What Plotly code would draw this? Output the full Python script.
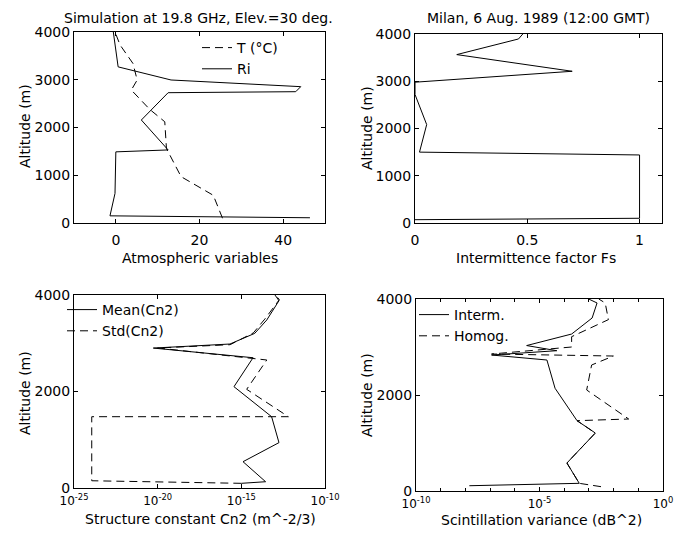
import plotly.graph_objects as go

# ---------------- data ----------------
# Panel 1: atmospheric variables vs altitude
t_alt = [100, 580, 970, 1560, 2120, 2380, 2785, 2995, 3340, 3730, 4000]
t_val = [25.5, 23.3, 15.6, 12.1, 11.7, 8.1, 3.7, 5.1, 4.1, 1.0, -0.2]
ri_alt = [110, 150, 620, 1490, 1530, 2157, 2729, 2750, 2855, 2995, 3270, 4000]
ri_val = [46.4, -1.4, -0.2, 0.0, 12.5, 6.1, 12.5, 43.0, 44.2, 13.2, 0.55, -0.6]

# Panel 2: intermittence factor
fs_alt = [70, 100, 1440, 1500, 2083, 2720, 2980, 3211, 3564, 3895, 4000]
fs_val = [0.0, 1.0, 1.0, 0.02, 0.052, 0.0, 0.0, 0.70, 0.186, 0.461, 0.48]

# Panel 3: structure constant Cn2 (log10 values)
mean_alt = [97, 130, 545, 940, 1478, 2100, 2700, 2900, 2984, 3205, 3482, 3882, 4000]
mean_exp = [-15.0, -13.55, -14.9, -12.75, -13.19, -15.44, -14.3, -20.26, -15.68, -14.2, -13.48, -12.75, -12.99]
std_alt = [97, 150, 1478, 1478, 2045, 2653, 2902, 2970, 3215, 3500, 3903, 4000]
std_exp = [-15.0, -23.94, -23.94, -12.19, -14.68, -13.48, -20.0, -15.67, -14.28, -13.6, -12.73, -12.95]

# Panel 4: scintillation variance (log10 values)
int_alt = [110, 160, 583, 1208, 1465, 2140, 2729, 2833, 2923, 3030, 3270, 3604, 3917, 4000]
int_exp = [-7.84, -3.39, -3.89, -2.74, -3.48, -4.37, -4.7, -6.94, -4.3, -5.52, -3.7, -2.87, -2.67, -3.01]
hom_alt = [90, 160, 583, 1208, 1465, 1500, 2104, 2625, 2812, 2854, 3000, 3215, 3570, 3917, 4000]
hom_exp = [-2.51, -3.39, -3.89, -2.74, -3.48, -1.39, -3.09, -2.89, -2.01, -6.94, -3.7, -3.7, -2.21, -2.34, -2.6]

# tick labels
alt_ticks_top = [0, 1000, 2000, 3000, 4000]
alt_ticks_bot = [0, 2000, 4000]
atm_ticks = [0, 20, 40]
fs_ticks = [0, 0.5, 1]
fs_ticktext = ["0", "0.5", "1"]
cn2_tick_exp = [-25, -20, -15, -10]
var_label_exp = [-10, -5, 0]
var_minor_exp = [-9, -8, -7, -6, -4, -3, -2, -1]

titles = ["Simulation at 19.8 GHz, Elev.=30 deg.", "Milan, 6 Aug. 1989 (12:00 GMT)"]
xlabels = ["Atmospheric variables", "Intermittence factor Fs",
           "Structure constant Cn2 (m^-2/3)", "Scintillation variance (dB^2)"]
ylabel = "Altitude (m)"

# ---------------- figure ----------------
OFF = 8                      # the page body has an 8px margin
W, H = 684 - OFF, 535 - OFF  # figure size so that the page is 684x535
FONT = "DejaVu Sans"
FS = 14


def px_x(a):
    return (a - OFF) / W


def px_y(b):
    return 1 - (b - OFF) / H


def dx(a, b):
    return [px_x(a), px_x(b)]


def dy(top, bottom):
    return [px_y(bottom), px_y(top)]


fig = go.Figure()
solid = dict(color="black", width=1)
dashed = dict(color="black", width=1, dash="8px,5px")

fig.add_trace(go.Scatter(x=t_val, y=t_alt, mode="lines", line=dashed, name="T (°C)",
                         xaxis="x", yaxis="y", legend="legend"))
fig.add_trace(go.Scatter(x=ri_val, y=ri_alt, mode="lines", line=solid, name="Ri",
                         xaxis="x", yaxis="y", legend="legend"))
fig.add_trace(go.Scatter(x=fs_val, y=fs_alt, mode="lines", line=solid, showlegend=False,
                         xaxis="x2", yaxis="y2"))
fig.add_trace(go.Scatter(x=[10 ** e for e in mean_exp], y=mean_alt, mode="lines", line=solid,
                         name="Mean(Cn2)", xaxis="x3", yaxis="y3", legend="legend2"))
fig.add_trace(go.Scatter(x=[10 ** e for e in std_exp], y=std_alt, mode="lines", line=dashed,
                         name="Std(Cn2)", xaxis="x3", yaxis="y3", legend="legend2"))
fig.add_trace(go.Scatter(x=[10 ** e for e in int_exp], y=int_alt, mode="lines", line=solid,
                         name="Interm.", xaxis="x4", yaxis="y4", legend="legend3"))
fig.add_trace(go.Scatter(x=[10 ** e for e in hom_exp], y=hom_alt, mode="lines", line=dashed,
                         name="Homog.", xaxis="x4", yaxis="y4", legend="legend3"))

ax = dict(showline=True, linecolor="black", linewidth=1, mirror="ticks", ticks="inside",
          ticklen=4, tickcolor="black", showgrid=False, zeroline=False, automargin=False,
          tickfont=dict(family=FONT, size=FS, color="black"))
xax = dict(ax, ticklabelstandoff=4)
logax = dict(ax, ticklabelstandoff=2, tickfont=dict(family=FONT, size=12, color="black"))

fig.update_layout(
    width=W, height=H, margin=dict(l=0, r=0, t=0, b=0, autoexpand=False),
    paper_bgcolor="white", plot_bgcolor="white",
    font=dict(family=FONT, size=FS, color="black"),
    xaxis=dict(xax, domain=dx(74, 325), range=[-10, 50], tickvals=atm_ticks, anchor="y"),
    yaxis=dict(ax, domain=dy(32, 223), range=[0, 4000], tickvals=alt_ticks_top, anchor="x"),
    xaxis2=dict(xax, domain=dx(415, 662), range=[0, 1.1], tickvals=fs_ticks,
                ticktext=fs_ticktext, anchor="y2"),
    yaxis2=dict(ax, domain=dy(34, 223), range=[0, 4000], tickvals=alt_ticks_top, anchor="x2"),
    xaxis3=dict(logax, domain=dx(74, 325), type="log", range=[-25, -10],
                tickvals=[10 ** e for e in cn2_tick_exp],
                ticktext=["10<sup>%d</sup>" % e for e in cn2_tick_exp], anchor="y3"),
    yaxis3=dict(ax, domain=dy(295, 488), range=[0, 4000], tickvals=alt_ticks_bot, anchor="x3"),
    xaxis4=dict(logax, domain=dx(416, 663), type="log", range=[-10, 0],
                tickvals=[10 ** e for e in var_label_exp],
                ticktext=["10<sup>%d</sup>" % e for e in var_label_exp],
                minor=dict(tickmode="array", tickvals=[10 ** e for e in var_minor_exp],
                           ticks="inside", ticklen=3, tickcolor="black"),
                anchor="y4"),
    yaxis4=dict(ax, domain=dy(299, 491), range=[0, 4000], tickvals=alt_ticks_bot, anchor="x4"),
)

leg = dict(xanchor="left", yanchor="top", bgcolor="rgba(0,0,0,0)", borderwidth=0,
           font=dict(family=FONT, size=FS, color="black"), itemwidth=30, tracegroupgap=0)
fig.update_layout(
    legend=dict(leg, x=px_x(197), y=px_y(32)),
    legend2=dict(leg, x=px_x(62), y=px_y(294)),
    legend3=dict(leg, x=px_x(414), y=px_y(299)),
)

ann = []
ann.append(dict(text=titles[0], x=px_x(198), y=px_y(8), yanchor="top"))
ann.append(dict(text=titles[1], x=px_x(538.5), y=px_y(8), yanchor="top"))
ann.append(dict(text=xlabels[0], x=px_x(200), y=px_y(258)))
ann.append(dict(text=xlabels[1], x=px_x(536), y=px_y(258)))
ann.append(dict(text=xlabels[2], x=px_x(200), y=px_y(519)))
ann.append(dict(text=xlabels[3], x=px_x(541), y=px_y(520)))
for (px, py) in [(25, 126), (367, 128), (25, 393), (367, 395)]:
    ann.append(dict(text=ylabel, x=px_x(px), y=px_y(py), textangle=-90))
for a in ann:
    a.setdefault("yanchor", "middle")
    a.update(xref="paper", yref="paper", showarrow=False, xanchor="center",
             font=dict(family=FONT, size=FS, color="black"))
fig.update_layout(annotations=ann)

fig.write_html("out.html")
